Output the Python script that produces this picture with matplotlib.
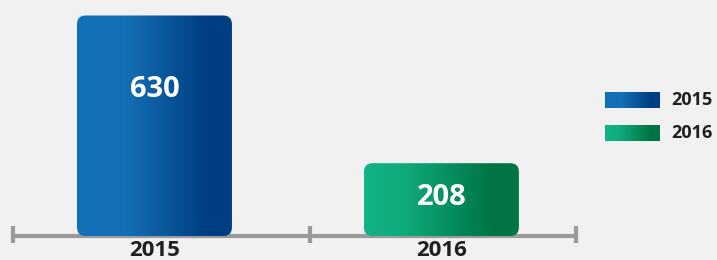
import matplotlib
matplotlib.use("Agg")
import matplotlib.pyplot as plt
import numpy as np
from matplotlib.patches import FancyBboxPatch
from matplotlib.colors import LinearSegmentedColormap

categories = ["2015", "2016"]
values = [630, 208]
legend_labels = ["2015", "2016"]
grad_colors = [
    [(0.0, "#1271b7"), (0.3, "#1570b5"), (0.82, "#003f84"), (1.0, "#003e83")],
    [(0.0, "#13b385"), (0.25, "#0fab7d"), (0.82, "#007545"), (1.0, "#007444")],
]

W, H = 717, 260
fig = plt.figure(figsize=(W / 100, H / 100), dpi=100)
fig.patch.set_facecolor("#f1f1f1")
FONT = ["Open Sans", "DejaVu Sans"]

ax_left, ax_right = 11, 578
ax_bottom = 24
ax_top = 260
ax = fig.add_axes([ax_left / W, ax_bottom / H, (ax_right - ax_left) / W, (ax_top - ax_bottom) / H])
ax.set_facecolor("none")
ax.set_xlim(-0.5, 1.476)
ax.set_ylim(0, 236 / 0.35)
ax.axis("off")

bar_w = 0.54
px_per_x = (ax_right - ax_left) / (1.476 + 0.5)
px_per_y = 0.35
aspect = px_per_x / px_per_y
label_frac = [0.665, 0.53]

def make_cmap(stops):
    return LinearSegmentedColormap.from_list("g", stops, N=256)

for i, (cat, v) in enumerate(zip(categories, values)):
    x0 = i - bar_w / 2
    r = 0.03
    patch = FancyBboxPatch((x0, 0), bar_w, v, boxstyle=f"round,pad=0,rounding_size={r}",
                           mutation_aspect=aspect, facecolor="none", edgecolor="none")
    ax.add_patch(patch)
    grad = np.linspace(0, 1, 256).reshape(1, -1)
    im = ax.imshow(grad, cmap=make_cmap(grad_colors[i]), extent=(x0, x0 + bar_w, 0, v),
                   aspect="auto", zorder=2, interpolation="bilinear")
    im.set_clip_path(patch)
    ax.text(i, v * label_frac[i], str(v), ha="center", va="center", color="white",
            fontsize=21, fontweight="bold", family=FONT, zorder=3)

ax.plot([-0.5, 1.476], [0, 0], color="#9a9a9a", lw=3, solid_capstyle="butt", zorder=1, clip_on=False)
for xt in [-0.5 + 0.006, 0.542, 1.476 - 0.006]:
    ax.plot([xt, xt], [-20, 30], color="#9a9a9a", lw=3, solid_capstyle="butt", zorder=1, clip_on=False)

for i, cat in enumerate(categories):
    ax.text(i, -58, cat, ha="center", va="baseline", color="#231f20", fontsize=16,
            fontweight="bold", family=FONT, clip_on=False)

leg_y = [100, 133]
for j, lab in enumerate(legend_labels):
    lax = fig.add_axes([605 / W, (H - leg_y[j] - 8.5) / H, 55 / W, 17 / H])
    lax.imshow(np.linspace(0, 1, 256).reshape(1, -1), cmap=make_cmap(grad_colors[j]),
               aspect="auto", interpolation="bilinear")
    lax.axis("off")
    fig.text(671 / W, (H - leg_y[j]) / H, lab, ha="left", va="center", color="#231f20",
             fontsize=13, fontweight="bold", family=FONT)

fig.savefig("out.png", dpi=100, facecolor=fig.get_facecolor())
